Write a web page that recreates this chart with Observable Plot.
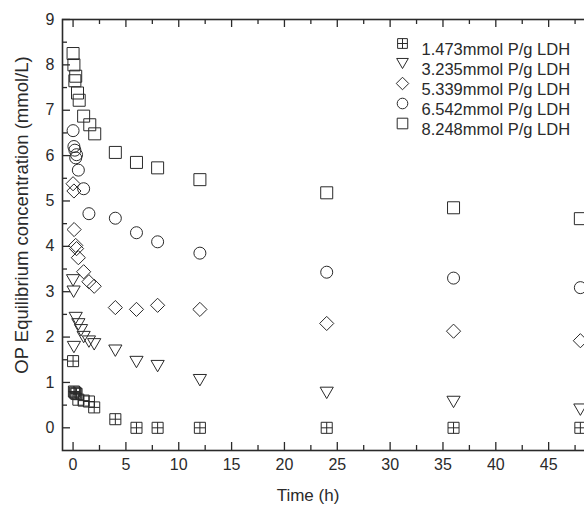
<!DOCTYPE html>
<html>
<head>
<meta charset="utf-8">
<script src="https://cdn.jsdelivr.net/npm/d3@7"></script>
<script src="https://cdn.jsdelivr.net/npm/@observablehq/plot@0.6"></script>
<style>
  html, body { margin: 0; padding: 0; background: #fff; overflow: hidden; }
  #chart svg { overflow: hidden; }
</style>
</head>
<body>
<div id="chart"></div>
<script>
// ---- data ----
const seriesNames = ["1.473mmol P/g LDH", "3.235mmol P/g LDH", "5.339mmol P/g LDH", "6.542mmol P/g LDH", "8.248mmol P/g LDH"];

const t1 = [0, 0.08, 0.17, 0.25, 0.33, 0.5, 1, 1.5, 2, 4, 6, 8, 12, 24, 36, 48];
const v1 = [1.47, 0.80, 0.78, 0.76, 0.75, 0.62, 0.60, 0.58, 0.45, 0.19, 0, 0, 0, 0, 0, 0];

const t2 = [0, 0.05, 0.08, 0.25, 0.5, 0.75, 1, 1.5, 2, 4, 6, 8, 12, 24, 36, 48];
const v2 = [3.25, 3.00, 1.78, 2.42, 2.28, 2.15, 2.00, 1.90, 1.84, 1.70, 1.45, 1.36, 1.05, 0.77, 0.57, 0.40];

const t3 = [0, 0.08, 0.1, 0.25, 0.33, 0.5, 1, 1.5, 2, 4, 6, 8, 12, 24, 36, 48];
const v3 = [5.38, 5.22, 4.37, 4.02, 3.95, 3.75, 3.44, 3.22, 3.12, 2.65, 2.61, 2.70, 2.61, 2.30, 2.13, 1.92];

const t4 = [0, 0.08, 0.17, 0.25, 0.33, 0.5, 1, 1.5, 4, 6, 8, 12, 24, 36, 48];
const v4 = [6.55, 6.20, 6.12, 5.95, 6.02, 5.68, 5.27, 4.72, 4.62, 4.30, 4.10, 3.85, 3.43, 3.30, 3.09];

const t5 = [0, 0.08, 0.25, 0.17, 0.42, 0.58, 1, 1.58, 2.05, 4, 6, 8, 12, 24, 36, 48];
const v5 = [8.25, 8.00, 7.75, 7.65, 7.38, 7.22, 6.87, 6.68, 6.48, 6.07, 5.85, 5.73, 5.47, 5.18, 4.85, 4.61];

const xTicks = [0, 5, 10, 15, 20, 25, 30, 35, 40, 45];
const yTicks = [0, 1, 2, 3, 4, 5, 6, 7, 8, 9];
const xMinor = [2.5, 7.5, 12.5, 17.5, 22.5, 27.5, 32.5, 37.5, 42.5, 47.5];
const yMinor = [0.5, 1.5, 2.5, 3.5, 4.5, 5.5, 6.5, 7.5, 8.5];

const xLabel = "Time (h)";
const yLabel = "OP Equilibrium concentration (mmol/L)";

// ---- table built from the arrays ----
const allT = [t1, t2, t3, t4, t5];
const allV = [v1, v2, v3, v4, v5];
const data = seriesNames.flatMap((s, i) => allT[i].map((t, j) => ({s, t, v: allV[i][j]})));

// ---- custom symbols ----
const rr = (size) => Math.sqrt(size / Math.PI);
const crossSquare = {draw(c, size) { const h = rr(size) * 0.92;
  c.moveTo(-h, -h); c.lineTo(h, -h); c.lineTo(h, h); c.lineTo(-h, h); c.closePath();
  c.moveTo(0, -h); c.lineTo(0, h); c.moveTo(-h, 0); c.lineTo(h, 0); }};
const triDown = {draw(c, size) { const r = rr(size); const w = r * 1.1, h = r * 0.95;
  c.moveTo(-w, -h); c.lineTo(w, -h); c.lineTo(0, h); c.closePath(); }};
const diamond = {draw(c, size) { const h = rr(size) * 1.18;
  c.moveTo(0, -h); c.lineTo(h, 0); c.lineTo(0, h); c.lineTo(-h, 0); c.closePath(); }};
const circle = {draw(c, size) { const r = rr(size);
  c.moveTo(r, 0); c.arc(0, 0, r, 0, 2 * Math.PI); }};
const square = {draw(c, size) { const h = rr(size);
  c.moveTo(-h, -h); c.lineTo(h, -h); c.lineTo(h, h); c.lineTo(-h, h); c.closePath(); }};
const symbols = [crossSquare, triDown, diamond, circle, square];

const W = 584, H = 509;
const mL = 62, mT = 19, mB = 59, mR = -17;
const frameW = W - mL - mR, frameH = H - mT - mB;
const ink = "#2a2a2a";
const font = "'Liberation Sans', Arial, Helvetica, sans-serif";

const legendMarks = seriesNames.flatMap((s, i) => [
  Plot.dot([s], {frameAnchor: "top-left", dx: 340, dy: 24 + 20 * i, symbol: d => d, r: 5.3, stroke: ink, fill: "none", strokeWidth: 1}),
  Plot.text([s], {frameAnchor: "top-left", dx: 359, dy: 24 + 20 * i, text: d => d, textAnchor: "start", fontSize: 16.5, fill: ink})
]);

const chart = Plot.plot({
  width: W, height: H,
  marginLeft: mL, marginTop: mT, marginBottom: mB, marginRight: mR,
  style: {fontFamily: font, fontSize: "16px", color: ink, background: "#fff"},
  x: {domain: [-1, 50], label: null},
  y: {domain: [-0.5, 9], label: null},
  symbol: {domain: seriesNames, range: symbols, legend: false},
  marks: [
    Plot.frame({stroke: ink, strokeWidth: 1.6}),
    Plot.tickX(xTicks, {x: d => d, insetTop: frameH - 8, stroke: ink, strokeWidth: 1.3}),
    Plot.tickX(xMinor, {x: d => d, insetTop: frameH - 5, stroke: ink, strokeWidth: 1.3}),
    Plot.tickX(xTicks, {x: d => d, insetBottom: frameH - 8, stroke: ink, strokeWidth: 1.3}),
    Plot.tickX(xMinor, {x: d => d, insetBottom: frameH - 5, stroke: ink, strokeWidth: 1.3}),
    Plot.tickY(yTicks, {y: d => d, insetRight: frameW - 8, stroke: ink, strokeWidth: 1.3}),
    Plot.tickY(yMinor, {y: d => d, insetRight: frameW - 5, stroke: ink, strokeWidth: 1.3}),
    Plot.axisX({ticks: xTicks, tickSize: 0, tickPadding: 8, fontSize: 16, label: null}),
    Plot.axisY({ticks: yTicks, tickSize: 0, tickPadding: 8, fontSize: 16, label: null}),
    Plot.text([xLabel], {frameAnchor: "bottom", dx: -24, dy: 50, text: d => d, textAnchor: "middle", fontSize: 17, fill: ink}),
    Plot.text([yLabel], {frameAnchor: "left", dx: -40, dy: -20, rotate: -90, text: d => d, textAnchor: "middle", fontSize: 18.5, fill: ink}),
    Plot.dot(data, {x: "t", y: "v", symbol: "s", r: 6, stroke: ink, fill: "none", strokeWidth: 1}),
    ...legendMarks
  ]
});
document.getElementById("chart").append(chart);
</script>
</body>
</html>
